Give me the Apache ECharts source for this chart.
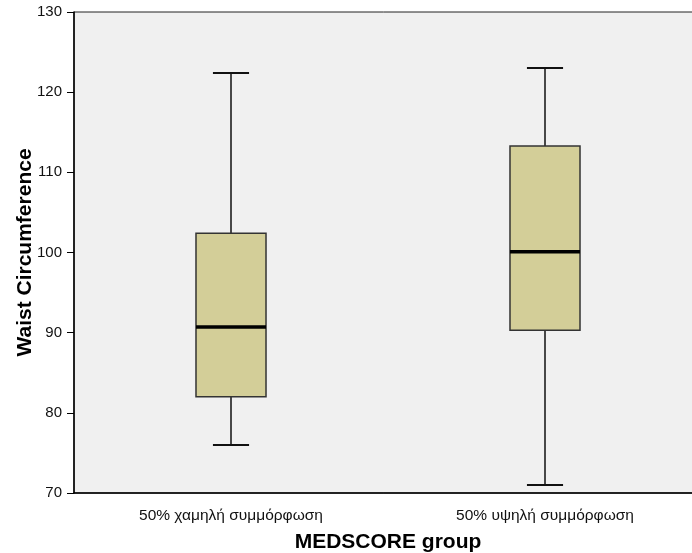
<!DOCTYPE html>
<html><head><meta charset="utf-8">
<script src="https://cdn.jsdelivr.net/npm/echarts@6/dist/echarts.min.js"></script>
<style>html,body{margin:0;padding:0;background:#fff}#c{width:692px;height:553px}</style>
</head><body><div id="c"></div>
<script>
const categories = ['50% χαμηλή συμμόρφωση', '50% υψηλή συμμόρφωση'];
// [min, Q1, median, Q3, max]
const lowGroup = [76, 82, 90.7, 102.4, 122.4];
const highGroup = [71, 90.3, 100.1, 113.3, 123];
const yTicks = [70, 80, 90, 100, 110, 120, 130];

const boxData = [[0].concat(lowGroup), [1].concat(highGroup)];

const chart = echarts.init(document.getElementById('c'), null, {renderer: 'canvas'});
chart.setOption({
  animation: false,
  backgroundColor: '#ffffff',
  grid: {left: 74, top: 12, right: -10, bottom: 60, show: true, containLabel: false,
         outerBoundsMode: 'none',
         backgroundColor: '#F0F0F0', borderColor: '#222', borderWidth: 1},
  xAxis: {
    type: 'category', data: categories,
    name: 'MEDSCORE group', nameLocation: 'middle', nameGap: 39, nameMoveOverlap: false,
    nameTextStyle: {fontFamily: 'Liberation Sans', fontWeight: 'bold', fontSize: 21, color: '#000'},
    axisLine: {lineStyle: {color: '#000', width: 1.5}},
    axisTick: {alignWithLabel: true, length: 9, lineStyle: {color: '#000'}},
    axisLabel: {fontFamily: 'Liberation Sans', fontSize: 15.5, color: '#111', margin: 15}
  },
  yAxis: {
    type: 'value', min: 70, max: 130, interval: 10,
    name: 'Waist Circumference', nameLocation: 'middle', nameGap: 38, nameMoveOverlap: false,
    nameTextStyle: {fontFamily: 'Liberation Sans', fontWeight: 'bold', fontSize: 21, color: '#000'},
    axisLine: {show: true, lineStyle: {color: '#000', width: 1.5}},
    axisTick: {show: true, length: 7, lineStyle: {color: '#000'}},
    splitLine: {show: false},
    axisLabel: {fontFamily: 'Liberation Sans', fontSize: 15, color: '#111', margin: 12,
      formatter: v => yTicks.indexOf(v) >= 0 ? String(v) : ''}
  },
  series: [{
    type: 'custom',
    data: boxData,
    encode: {x: 0, y: [1, 2, 3, 4, 5]},
    renderItem: function (params, api) {
      const c = api.value(0);
      const pMin = api.coord([c, api.value(1)]);
      const pQ1 = api.coord([c, api.value(2)]);
      const pMed = api.coord([c, api.value(3)]);
      const pQ3 = api.coord([c, api.value(4)]);
      const pMax = api.coord([c, api.value(5)]);
      const band = api.size([1, 0])[0];
      const bw = band * 0.223;
      const cw = band * 0.115;
      const x = pMed[0];
      const ls = {stroke: '#111', lineWidth: 1.5};
      return {type: 'group', children: [
        {type: 'line', shape: {x1: x, y1: pMax[1], x2: x, y2: pQ3[1]}, style: ls},
        {type: 'line', shape: {x1: x, y1: pQ1[1], x2: x, y2: pMin[1]}, style: ls},
        {type: 'line', shape: {x1: x - cw / 2, y1: pMax[1], x2: x + cw / 2, y2: pMax[1]}, style: {stroke: '#111', lineWidth: 2}},
        {type: 'line', shape: {x1: x - cw / 2, y1: pMin[1], x2: x + cw / 2, y2: pMin[1]}, style: {stroke: '#111', lineWidth: 2}},
        {type: 'rect', shape: {x: x - bw / 2, y: pQ3[1], width: bw, height: pQ1[1] - pQ3[1]},
          style: {fill: '#D3CE98', stroke: '#333', lineWidth: 1.5}},
        {type: 'line', shape: {x1: x - bw / 2, y1: pMed[1], x2: x + bw / 2, y2: pMed[1]}, style: {stroke: '#000', lineWidth: 3.5}}
      ]};
    }
  }]
});
</script></body></html>
